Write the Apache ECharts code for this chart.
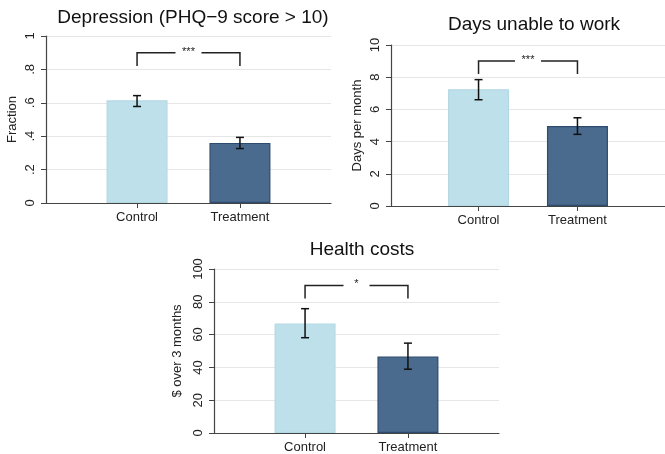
<!DOCTYPE html>
<html><head><meta charset="utf-8">
<script src="https://cdn.jsdelivr.net/npm/echarts@6/dist/echarts.min.js"></script>
<style>html,body{margin:0;padding:0;background:#fff}#c{width:665px;height:454px}</style>
</head><body><div id="c"></div>
<script>
const categories = ['Control', 'Treatment'];
const titles = ['Depression (PHQ\u22129 score > 10)', 'Days unable to work', 'Health costs'];
const yNames = ['Fraction', 'Days per month', '$ over 3 months'];
const yTickLabels = [['0', '.2', '.4', '.6', '.8', '1'], ['0', '2', '4', '6', '8', '10'], ['0', '20', '40', '60', '80', '100']];
const yMax = [1, 10, 100];
const yStep = [0.2, 2, 20];
const means = [[0.615, 0.36], [7.25, 4.97], [66.7, 46.6]];
const errLow = [[0.578, 0.326], [6.6, 4.45], [58.1, 38.9]];
const errHigh = [[0.643, 0.393], [7.85, 5.48], [75.8, 54.8]];
const bracketTop = [0.9, 9, 90];
const bracketLeg = [0.82, 8.2, 82];
const sigStars = ['***', '***', '*'];

const FONT = 'Liberation Sans, Arial, Helvetica, sans-serif';
const colors = ['#bde0ea', '#4a6b8e'];
const borders = ['#b3d9e5', '#2c4b6d'];
const grids = [
  {left: 46, top: 36, width: 285, height: 167},
  {left: 391, top: 45, width: 276, height: 161},
  {left: 214, top: 269, width: 285, height: 165}
];
const titlePos = [[188, 3], [529, 10], [357, 235]];
const nameGaps = [27, 27, 30];

const option = {
  animation: false,
  backgroundColor: '#fff',
  title: titles.map((t, i) => ({
    text: t, left: titlePos[i][0], top: titlePos[i][1], textAlign: 'center',
    textStyle: {fontFamily: FONT, fontSize: 19, fontWeight: 'normal', color: '#111'}
  })),
  grid: grids.map(g => Object.assign({containLabel: false}, g)),
  xAxis: grids.map((g, i) => ({
    type: 'value', gridIndex: i, min: 0.115, max: 2.885,
    splitLine: {show: false},
    axisLine: {show: true, onZero: false, lineStyle: {color: '#444', width: 1.2}},
    axisTick: {show: true, customValues: [1, 2], length: 5, lineStyle: {color: '#444'}},
    axisLabel: {show: true, customValues: [1, 2], formatter: v => categories[Math.round(v) - 1] || '',
      fontFamily: FONT, fontSize: 13, color: '#222', margin: 8}
  })),
  yAxis: grids.map((g, i) => ({
    type: 'value', gridIndex: i, min: 0, max: yMax[i], interval: yStep[i],
    name: yNames[i], nameLocation: 'middle', nameGap: nameGaps[i],
    nameTextStyle: {fontFamily: FONT, fontSize: 13, color: '#222'},
    axisLine: {show: true, lineStyle: {color: '#444', width: 1.2}},
    axisTick: {show: true, length: 5, lineStyle: {color: '#444'}},
    splitLine: {show: true, lineStyle: {color: '#e6e6e6', width: 1.2}},
    axisLabel: {rotate: 90, fontFamily: FONT, fontSize: 13, color: '#222', margin: 9,
      formatter: v => yTickLabels[i][Math.round(v / yStep[i])]}
  })),
  series: []
};

for (let i = 0; i < 3; i++) {
  option.series.push({
    type: 'bar', xAxisIndex: i, yAxisIndex: i, barWidth: 61,
    data: categories.map((c, k) => ({
      value: [k + 1, means[i][k]],
      itemStyle: {color: colors[k], borderColor: borders[k], borderWidth: 1.2}
    })),
    z: 2
  });
  option.series.push({
    type: 'custom', xAxisIndex: i, yAxisIndex: i, z: 5,
    data: categories.map((c, k) => [k + 1, errLow[i][k], errHigh[i][k]]),
    renderItem: (params, api) => {
      const lo = api.coord([api.value(0), api.value(1)]);
      const hi = api.coord([api.value(0), api.value(2)]);
      const w = 4;
      const st = {stroke: '#111', lineWidth: 1.5};
      return {type: 'group', children: [
        {type: 'line', shape: {x1: lo[0], y1: lo[1], x2: hi[0], y2: hi[1]}, style: st},
        {type: 'line', shape: {x1: lo[0] - w, y1: lo[1], x2: lo[0] + w, y2: lo[1]}, style: st},
        {type: 'line', shape: {x1: hi[0] - w, y1: hi[1], x2: hi[0] + w, y2: hi[1]}, style: st}
      ]};
    }
  });
  option.series.push({
    type: 'custom', xAxisIndex: i, yAxisIndex: i, z: 5,
    data: [[1, 2, bracketTop[i], bracketLeg[i], sigStars[i]]],
    renderItem: (params, api) => {
      const a = api.coord([api.value(0), api.value(2)]);
      const b = api.coord([api.value(1), api.value(2)]);
      const aL = api.coord([api.value(0), api.value(3)]);
      const mid = (a[0] + b[0]) / 2;
      const gap = 13;
      const st = {stroke: '#222', lineWidth: 1.5, fill: null};
      return {type: 'group', children: [
        {type: 'polyline', shape: {points: [[a[0], aL[1]], [a[0], a[1]], [mid - gap, a[1]]]}, style: st},
        {type: 'polyline', shape: {points: [[mid + gap, b[1]], [b[0], b[1]], [b[0], aL[1]]]}, style: st},
        {type: 'text', x: mid, y: a[1] - 1, style: {text: api.value(4),
          align: 'center', verticalAlign: 'middle', fontFamily: FONT, fontSize: 11, fill: '#222'}}
      ]};
    }
  });
}

const chart = echarts.init(document.getElementById('c'), null, {renderer: 'canvas'});
chart.setOption(option);
</script></body></html>
